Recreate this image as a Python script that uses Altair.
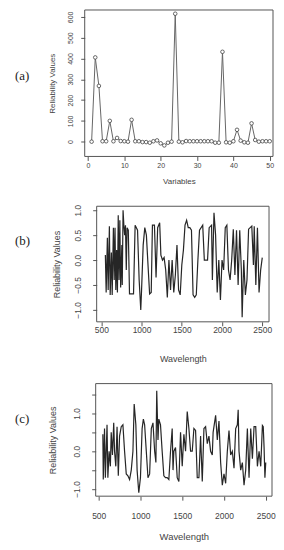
import altair as alt
import pandas as pd

# ---- Panel (a) data ----
a_var = list(range(1, 51))
a_rel = [0, 405, 268, 2, 2, 100, 2, 18, 3, 2,
         0, 105, 2, 2, -2, -2, -5, 2, 6, -8,
         -18, -5, 0, 615, 0, -3, 3, 2, 2, 2,
         2, 2, 2, 2, -5, -5, 432, -3, -5, 2,
         57, 5, -3, -5, 88, 8, 0, 2, 2, 2]

# ---- Panel (b) data ----
b_wave = [550, 560, 575, 585, 600, 610, 625, 635, 650, 660,
          670, 680, 690, 700, 710, 720, 730, 740, 755, 760,
          770, 780, 790, 800, 810, 820, 835, 850, 900, 920,
          950, 970, 990, 1000, 1020, 1040, 1060, 1080, 1100, 1120,
          1135, 1160, 1180, 1200, 1225, 1240, 1260, 1280, 1300, 1320,
          1340, 1360, 1380, 1400, 1420, 1440, 1460, 1480, 1500, 1520,
          1540, 1560, 1580, 1600, 1620, 1640, 1660, 1680, 1700, 1720,
          1760, 1780, 1800, 1820, 1840, 1870, 1880, 1900, 1920, 1940,
          1960, 1980, 2000, 2020, 2040, 2060, 2080, 2100, 2120, 2140,
          2160, 2180, 2200, 2220, 2240, 2250, 2270, 2290, 2310, 2330,
          2350, 2370, 2390, 2400, 2420, 2440, 2460, 2480, 2500]
b_rel = [0.1, -0.65, 0.45, -0.6, 0.68, -0.7, 0.15, -0.7, 0.65, -0.4,
         0.65, -0.6, 0.2, -0.65, 0.9, -0.4, 0.8, -0.55, 0.3, -0.5,
         1.0, 0.7, 0.5, 0.7, -0.2, 0.65, 0.6, -0.68, -0.68, 0.7,
         0.6, -0.4, -1.0, -0.6, 0.3, 0.65, 0.5, -0.1, -0.68, -0.65,
         0.7, 0.7, -0.35, 0.65, 0.75, 0.1, 0.0, 0.05, -0.2, -0.75,
         0.0, -0.6, 0.0, -0.65, -0.3, 0.3, -0.6, -0.7, -0.1, 0.2,
         0.7, 0.8, 0.65, 0.65, 0.6, -0.7, -0.75, -0.7, 0.0, 0.6,
         0.7, 0.0, 0.0, 0.0, 0.65, 0.7, -0.4, 0.95, 0.5, -0.65,
         0.0, -0.8, 0.0, -0.2, 0.65, 0.7, -0.2, -0.4, 0.0, 0.62,
         -0.3, 0.6, -0.5, 0.6, -0.2, -1.15, 0.0, -0.7, -0.4, 0.62,
         0.65, 0.68, -0.1, 0.68, -0.5, 0.65, -0.65, -0.2, 0.05]

# ---- Panel (c) data ----
c_wave = [550, 555, 570, 580, 600, 610, 625, 640, 650, 665,
          680, 690, 705, 720, 735, 750, 770, 790, 810, 830,
          850, 870, 890, 910, 925, 945, 960, 980, 1000, 1020,
          1035, 1050, 1070, 1090, 1110, 1130, 1150, 1170, 1185, 1195,
          1210, 1220, 1240, 1260, 1280, 1300, 1320, 1340, 1360, 1380,
          1390, 1400, 1420, 1440, 1460, 1480, 1500, 1520, 1540, 1560,
          1580, 1600, 1620, 1640, 1660, 1680, 1700, 1720, 1740, 1760,
          1780, 1800, 1820, 1840, 1860, 1870, 1880, 1900, 1920, 1940,
          1960, 1980, 2000, 2020, 2040, 2060, 2080, 2100, 2120, 2140,
          2160, 2170, 2180, 2200, 2220, 2240, 2260, 2280, 2300, 2320,
          2340, 2360, 2380, 2400, 2420, 2440, 2460, 2470, 2480, 2490,
          2500]
c_rel = [0.45, -0.75, 0.6, -0.7, 0.7, -0.7, 0.0, -0.4, 0.5, -0.1,
         0.75, 0.0, -0.4, 0.65, -0.65, 0.4, 0.65, 0.7, 0.0, -0.6,
         -0.65, -0.75, -0.5, 0.0, 1.25, 0.7, -0.5, -1.1, -0.7, 0.6,
         0.85, 0.7, 0.0, -0.7, -0.6, 0.6, 0.75, 0.0, -0.3, 1.6,
         0.3, 0.85, 0.7, 0.0, -0.65, -0.7, -0.7, -0.75, 0.0, 0.6,
         -0.5, 0.0, 0.1, -0.7, -0.8, 0.5, -0.4, 0.45, 0.0, 1.05,
         0.6, 0.0, 0.0, 0.6, 0.55, -0.7, -0.7, 0.4, -0.8, 0.6,
         0.65, 0.2, 0.4, 0.0, -0.1, 0.5, 0.65, 0.95, 0.3, 0.8,
         -0.3, -0.9, -0.6, -0.85, 0.0, 0.55, -0.1, 0.0, -0.45, 0.6,
         0.7, 1.1, 0.0, -0.5, -0.3, -0.9, -0.5, 0.6, -0.7, 0.6,
         -0.2, 0.65, 0.65, -0.4, 0.0, -0.4, 0.68, 0.65, 0.1, -0.7,
         -0.3]

panel_labels = ["(a)", "(b)", "(c)"]

# axis domains (the box of each panel is drawn on these)
a_xdom, a_ydom = [-0.9, 50.9], [-71, 633]
b_xdom, b_ydom = [442, 2584], [-1.24, 1.08]
c_xdom, c_ydom = [464, 2575], [-1.19, 1.79]

assert len(b_wave) == len(b_rel)
assert len(c_wave) == len(c_rel)

FONT = "Liberation Sans"
TXT = "#444444"
BOX = "#555555"

df_a = pd.DataFrame({"var": a_var, "rel": a_rel})
df_b = pd.DataFrame({"wave": b_wave, "rel": b_rel})
df_c = pd.DataFrame({"wave": c_wave, "rel": c_rel})


def label_layer(text, y):
    return alt.Chart(pd.DataFrame({"t": [text]})).mark_text(
        font="Liberation Serif", fontSize=13, align="left", baseline="middle",
        color="#222222"
    ).encode(text="t:N", x=alt.value(-70), y=alt.value(y))


def box_layer(xenc, yenc, xf, yf, xdom, ydom):
    d = pd.DataFrame({xf: [xdom[0]], "x_end": [xdom[1]],
                      yf: [ydom[0]], "y_end": [ydom[1]]})
    return alt.Chart(d).mark_rect(fillOpacity=0, stroke=BOX, strokeWidth=1
                                  ).encode(x=xenc, x2="x_end:Q",
                                           y=yenc, y2="y_end:Q")


# ---------- Panel (a) ----------
x_a = alt.X("var:Q",
            scale=alt.Scale(domain=a_xdom, nice=False, zero=False),
            axis=alt.Axis(values=[0, 10, 20, 30, 40, 50], title="Variables",
                          format="d", labelFontSize=7, titleFontSize=8,
                          tickSize=4, labelPadding=1, titlePadding=9))
y_a = alt.Y("rel:Q",
            scale=alt.Scale(domain=a_ydom, nice=False, zero=False),
            axis=alt.Axis(values=[0, 100, 200, 300, 400, 500, 600],
                          title="Reliability Values", format="d",
                          labelAngle=270, labelAlign="center",
                          labelBaseline="bottom", labelFontSize=7,
                          titleFontSize=8, tickSize=4, labelPadding=7,
                          titlePadding=10))
base_a = alt.Chart(df_a)
line_a = base_a.mark_line(color="#666666", strokeWidth=1).encode(x=x_a, y=y_a)
pts_a = base_a.mark_point(shape="circle", size=13, filled=True, fill="white",
                          stroke="#444444", strokeWidth=0.8, opacity=1
                          ).encode(x=x_a, y=y_a)
panel_a = alt.layer(box_layer(x_a, y_a, "var", "rel", a_xdom, a_ydom),
                    line_a, pts_a, label_layer(panel_labels[0], 66)
                    ).properties(width=189, height=147)

# ---------- Panel (b) ----------
x_b = alt.X("wave:Q",
            scale=alt.Scale(domain=b_xdom, nice=False, zero=False,
                            range=[12, 185]),
            axis=alt.Axis(values=[500, 1000, 1500, 2000, 2500],
                          title="Wavelength", format="d", labelFontSize=8.5,
                          titleFontSize=9, tickSize=4, labelPadding=0,
                          titlePadding=20))
y_b = alt.Y("rel:Q",
            scale=alt.Scale(domain=b_ydom, nice=False, zero=False),
            axis=alt.Axis(values=[-1.0, -0.5, 0.0, 0.5, 1.0],
                          title="Reliability Values", format=".1f",
                          labelAngle=270, labelAlign="center",
                          labelBaseline="bottom", labelFontSize=8.5,
                          titleFontSize=9, tickSize=4, labelPadding=10,
                          titlePadding=12, offset=-12))
line_b = alt.Chart(df_b).mark_line(color="#262626", strokeWidth=1.2
                                   ).encode(x=x_b, y=y_b)
panel_b = alt.layer(box_layer(x_b, y_b, "wave", "rel", b_xdom, b_ydom),
                    line_b, label_layer(panel_labels[1], 35)
                    ).properties(width=185, height=116)

# ---------- Panel (c) ----------
x_c = alt.X("wave:Q",
            scale=alt.Scale(domain=c_xdom, nice=False, zero=False,
                            range=[11, 188]),
            axis=alt.Axis(values=[500, 1000, 1500, 2000, 2500],
                          title="Wavelength", format="d", labelFontSize=8.5,
                          titleFontSize=9.5, tickSize=4, labelPadding=11,
                          titlePadding=12))
y_c = alt.Y("rel:Q",
            scale=alt.Scale(domain=c_ydom, nice=False, zero=False),
            axis=alt.Axis(values=[-1.0, -0.5, 0.0, 0.5, 1.0, 1.5],
                          title="Reliability Values",
                          labelExpr="datum.value % 1 == 0 ? format(datum.value, '.1f') : ''",
                          labelAngle=270, labelAlign="center",
                          labelBaseline="bottom", labelFontSize=8.5,
                          titleFontSize=9, tickSize=4, labelPadding=10,
                          titlePadding=15, offset=-11))
line_c = alt.Chart(df_c).mark_line(color="#262626", strokeWidth=1.2
                                   ).encode(x=x_c, y=y_c)
panel_c = alt.layer(box_layer(x_c, y_c, "wave", "rel", c_xdom, c_ydom),
                    line_c, label_layer(panel_labels[2], 36)
                    ).properties(width=188, height=113)

chart = alt.vconcat(panel_a, panel_b, panel_c, spacing=19).properties(
    padding={"left": 7, "top": 0, "right": 0, "bottom": 0},
    background="white"
).configure_view(
    strokeWidth=0
).configure_axis(
    domain=False, grid=False, tickColor=BOX, labelColor=TXT,
    titleColor=TXT, labelFont=FONT, titleFont=FONT, titleFontWeight="normal",
    labelOverlap=False, labelFlush=False
)

chart.save("out.html", embed_options={"renderer": "svg", "actions": False})
